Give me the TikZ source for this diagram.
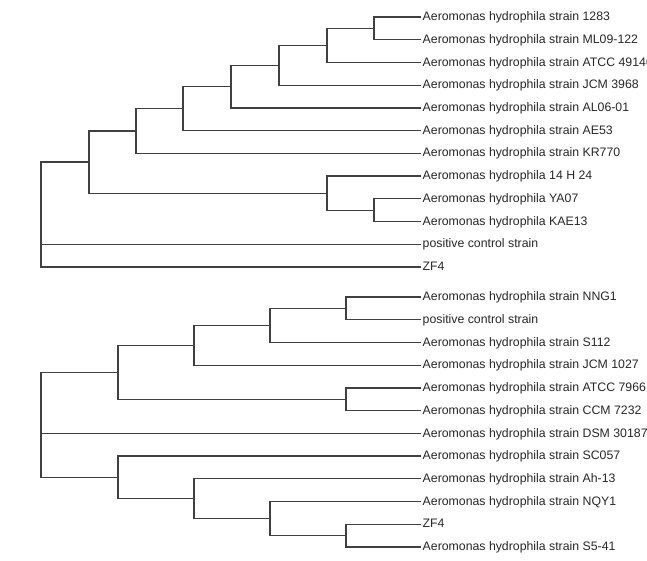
\documentclass[tikz,border=0pt]{standalone}
\usepackage{fontspec}
\setmainfont{Liberation Sans}
\begin{document}
\begin{tikzpicture}[x=1pt,y=-1pt,
  leaf/.style={anchor=west,inner xsep=2.5pt,inner ysep=0pt,text height=0.8em,text depth=0.08em,
    font=\fontsize{12.3}{14}\selectfont,text=black!85},
  br/.style={draw=black!75,line width=1.25pt,line cap=rect}]
\useasboundingbox (0,0) rectangle (647,561);
\clip (0,0) rectangle (647,561);
% ---- top tree leaves
\node[leaf] (t1)  at (420,17)    {Aeromonas hydrophila strain 1283};
\node[leaf] (t2)  at (420,39.7)  {Aeromonas hydrophila strain ML09-122};
\node[leaf] (t3)  at (420,62.5)  {Aeromonas hydrophila strain ATCC 49140};
\node[leaf] (t4)  at (420,85.2)  {Aeromonas hydrophila strain JCM 3968};
\node[leaf] (t5)  at (420,107.9) {Aeromonas hydrophila strain AL06-01};
\node[leaf] (t6)  at (420,130.6) {Aeromonas hydrophila strain AE53};
\node[leaf] (t7)  at (420,153.4) {Aeromonas hydrophila strain KR770};
\node[leaf] (t8)  at (420,176.1) {Aeromonas hydrophila 14 H 24};
\node[leaf] (t9)  at (420,198.8) {Aeromonas hydrophila YA07};
\node[leaf] (t10) at (420,221.6) {Aeromonas hydrophila KAE13};
\node[leaf] (t11) at (420,244.3) {positive control strain};
\node[leaf] (t12) at (420,267)   {ZF4};
% ---- top tree internal nodes
\coordinate (a1) at (374,28.35);
\coordinate (a2) at (327,45.4);
\coordinate (a3) at (279,65.3);
\coordinate (a4) at (231,86.6);
\coordinate (a5) at (183,108.6);
\coordinate (a6) at (136,131.0);
\coordinate (ay) at (374,210.2);
\coordinate (ah) at (327,193.15);
\coordinate (a7) at (89,162.1);
\coordinate (ar) at (41,214.5);
\draw[br] (a1) |- (t1.west) (a1) |- (t2.west);
\draw[br] (a2) |- (a1) (a2) |- (t3.west);
\draw[br] (a3) |- (a2) (a3) |- (t4.west);
\draw[br] (a4) |- (a3) (a4) |- (t5.west);
\draw[br] (a5) |- (a4) (a5) |- (t6.west);
\draw[br] (a6) |- (a5) (a6) |- (t7.west);
\draw[br] (ay) |- (t9.west) (ay) |- (t10.west);
\draw[br] (ah) |- (t8.west) (ah) |- (ay);
\draw[br] (a7) |- (a6) (a7) |- (ah);
\draw[br] (ar) |- (a7) (ar) |- (t11.west) (ar) |- (t12.west);
% ---- bottom tree leaves
\node[leaf] (u1)  at (420,297)   {Aeromonas hydrophila strain NNG1};
\node[leaf] (u2)  at (420,319.7) {positive control strain};
\node[leaf] (u3)  at (420,342.5) {Aeromonas hydrophila strain S112};
\node[leaf] (u4)  at (420,365.2) {Aeromonas hydrophila strain JCM 1027};
\node[leaf] (u5)  at (420,387.9) {Aeromonas hydrophila strain ATCC 7966};
\node[leaf] (u6)  at (420,410.6) {Aeromonas hydrophila strain CCM 7232};
\node[leaf] (u7)  at (420,433.4) {Aeromonas hydrophila strain DSM 30187};
\node[leaf] (u8)  at (420,456.1) {Aeromonas hydrophila strain SC057};
\node[leaf] (u9)  at (420,478.8) {Aeromonas hydrophila strain Ah-13};
\node[leaf] (u10) at (420,501.6) {Aeromonas hydrophila strain NQY1};
\node[leaf] (u11) at (420,524.3) {ZF4};
\node[leaf] (u12) at (420,547)   {Aeromonas hydrophila strain S5-41};
% ---- bottom tree internal nodes
\coordinate (b1) at (346,308.35);
\coordinate (b2) at (270,325.4);
\coordinate (b3) at (194,345.3);
\coordinate (b4) at (346,399.25);
\coordinate (b5) at (118,372.3);
\coordinate (c1) at (346,535.65);
\coordinate (c2) at (270,518.6);
\coordinate (c3) at (194,498.7);
\coordinate (c4) at (118,477.4);
\coordinate (br) at (41,424.8);
\draw[br] (b1) |- (u1.west) (b1) |- (u2.west);
\draw[br] (b2) |- (b1) (b2) |- (u3.west);
\draw[br] (b3) |- (b2) (b3) |- (u4.west);
\draw[br] (b4) |- (u5.west) (b4) |- (u6.west);
\draw[br] (b5) |- (b3) (b5) |- (b4);
\draw[br] (c1) |- (u11.west) (c1) |- (u12.west);
\draw[br] (c2) |- (u10.west) (c2) |- (c1);
\draw[br] (c3) |- (u9.west) (c3) |- (c2);
\draw[br] (c4) |- (u8.west) (c4) |- (c3);
\draw[br] (br) |- (b5) (br) |- (u7.west) (br) |- (c4);
\end{tikzpicture}
\end{document}
